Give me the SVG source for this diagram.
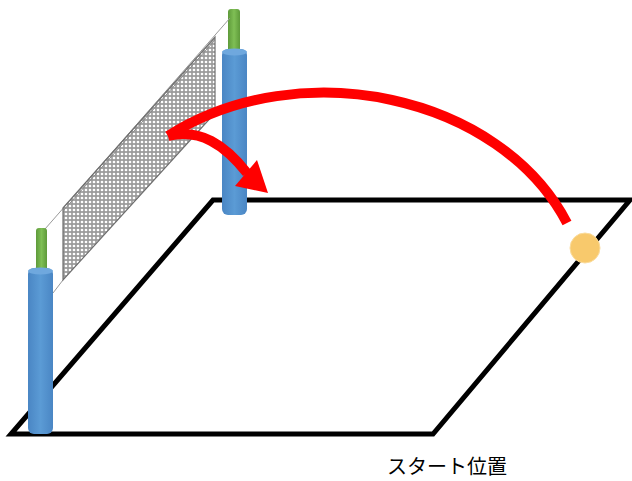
<svg xmlns="http://www.w3.org/2000/svg" width="632" height="481" viewBox="0 0 632 481">
  <style>
    .court { fill: none; stroke: #000; stroke-width: 5; stroke-linejoin: miter; }
    .cord { fill: none; stroke: #9a9a9a; stroke-width: 1; }
    .net { fill: url(#mesh); stroke: #6f6f6f; stroke-width: 1.2; }
    .rod { fill: url(#greenGrad); }
    .post { fill: url(#blueGrad); }
    .postTop { fill: #6fa8de; }
    .flight { fill: none; stroke: #ff0000; stroke-width: 10; stroke-linecap: butt; }
    .label { font-family: "Noto Sans CJK JP", "Noto Sans", sans-serif; font-size: 20px; fill: #000; }
  </style>
  <defs>
    <linearGradient id="blueGrad" x1="0" y1="0" x2="1" y2="0">
      <stop offset="0" stop-color="#4a86c4"/>
      <stop offset="0.5" stop-color="#5b9bd5"/>
      <stop offset="1" stop-color="#4a86c4"/>
    </linearGradient>
    <linearGradient id="greenGrad" x1="0" y1="0" x2="1" y2="0">
      <stop offset="0" stop-color="#5e9a3a"/>
      <stop offset="0.5" stop-color="#7fbf55"/>
      <stop offset="1" stop-color="#5e9a3a"/>
    </linearGradient>
    <pattern id="mesh" width="4" height="4" patternUnits="userSpaceOnUse">
      <rect width="4" height="4" fill="#9c9c9c"/>
      <circle cx="2" cy="2" r="1.35" fill="#ffffff"/>
    </pattern>
  </defs>

  <!-- court outline -->
  <g id="court">
    <polygon class="court" points="213,200 630,200 433,434 11,434"/>
  </g>

  <!-- far post -->
  <g id="post-back">
    <rect class="rod" x="228" y="9" width="12" height="44" rx="3"/>
    <rect class="post" x="222" y="49" width="25" height="166" rx="6"/>
    <ellipse class="postTop" cx="234.5" cy="52" rx="12.5" ry="3.5"/>
  </g>

  <!-- net with cords -->
  <g id="net">
    <line class="cord" x1="45" y1="229" x2="230" y2="18"/>
    <line class="cord" x1="53" y1="293" x2="63" y2="280"/>
    <line class="cord" x1="215" y1="113" x2="223" y2="104"/>
    <polygon class="net" points="63,208 215,37 215,113 63,280"/>
    <line x1="63" y1="211" x2="215" y2="40" stroke="#8a8a8a" stroke-width="1"/>
  </g>

  <!-- near post -->
  <g id="post-front">
    <rect class="rod" x="36" y="228" width="11" height="44" rx="3"/>
    <rect class="post" x="28" y="268" width="25" height="166" rx="6"/>
    <ellipse class="postTop" cx="40.5" cy="271" rx="12.5" ry="3.5"/>
  </g>

  <!-- ball flight -->
  <g id="connectors">
    <path class="flight" d="M 567 223 C 500 95, 300 52, 168 136"/>
    <path class="flight" d="M 168 136 C 200 128, 225 145, 247 173"/>
    <polygon fill="#ff0000" points="235,186 268,193 257,160"/>
  </g>

  <!-- ball at start position -->
  <g id="ball">
    <circle cx="585" cy="248" r="15" fill="#f8c96c" stroke="#fbdc9c" stroke-width="1"/>
  </g>

  <g id="start-label">
    <text class="label" x="387" y="474">スタート位置</text>
  </g>
</svg>
